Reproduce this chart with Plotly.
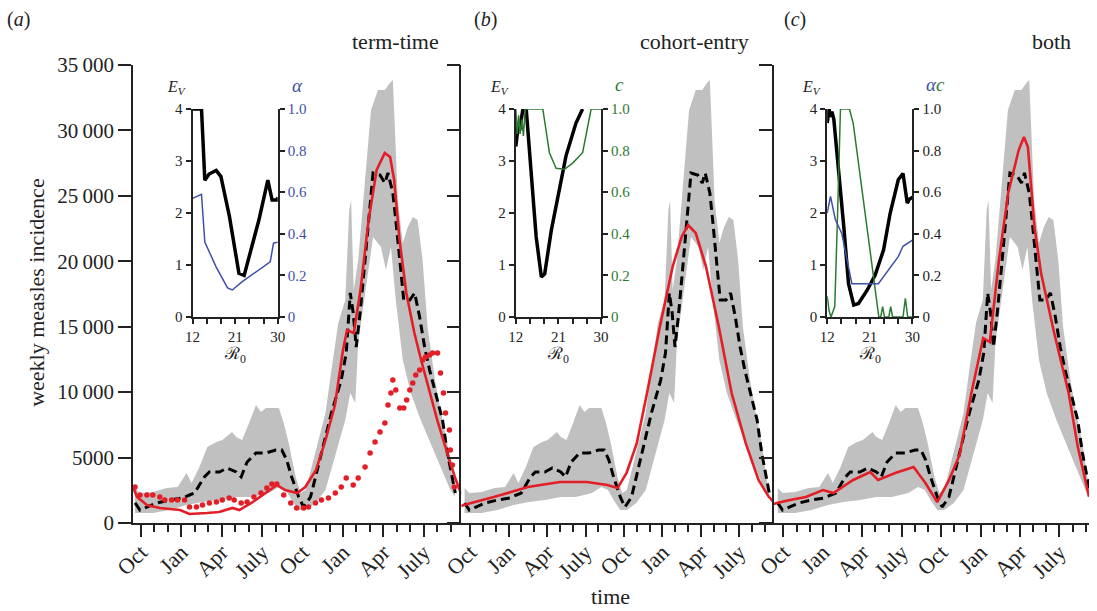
import plotly.graph_objects as go

# ---------------- data (x in months after 1 Oct of first year) ----------------
months = ["Oct", "Jan", "Apr", "July", "Oct", "Jan", "Apr", "July"]
month_ticks = [0, 3, 6, 9, 12, 15, 18, 21]
y_ticks = [0, 5000, 10000, 15000, 20000, 25000, 30000, 35000]
y_ticktext = ["0", "5000", "10\u2009000", "15\u2009000", "20\u2009000", "25\u2009000", "30\u2009000", "35\u2009000"]

obs_x = [-0.44, -0.07, 0.44, 1.18, 2.14, 3.09, 3.61, 3.98, 4.34, 4.71, 5.08, 5.82, 6.41, 7.07, 7.44, 7.88,
         8.54, 9.28, 10.01, 10.46, 10.82, 11.19, 11.71, 12.08, 12.59, 13.03, 13.55, 14.14, 14.87, 15.24,
         15.54, 15.76, 15.98, 16.27, 16.64, 17.01, 17.23, 17.75, 18.11, 18.34, 18.70, 18.92, 19.22, 19.51,
         19.96, 20.32, 20.69, 21.06, 21.43, 21.87, 22.39, 22.75, 23.12, 23.34]
obs = [1530, 990, 1220, 1530, 1760, 1910, 2140, 2290, 2900, 3520, 3900, 3900, 4200, 3900, 3520, 4660,
       5350, 5350, 5580, 5580, 4810, 3520, 1990, 1220, 1990, 3820, 5810, 8400, 10930, 12990,
       17580, 16050, 13450, 16050, 20100, 24680, 26750, 26590, 25980, 26750, 25220, 23150, 20100, 17040,
       17040, 17580, 15740, 13450, 11690, 9930, 7870, 5350, 3520, 2290]

band_up_x = [-0.44, -0.07, 0.88, 1.91, 2.72, 3.39, 3.76, 4.34, 4.93, 5.60, 6.04, 6.33, 6.77, 7.07, 7.51,
             8.03, 8.54, 8.91, 9.28, 10.24, 10.60, 10.97, 11.49, 11.86, 12.22, 12.67, 13.18, 13.70, 14.14,
             14.65, 15.17, 15.46, 15.60, 15.80, 16.13, 16.64, 17.08, 17.60, 18.11, 18.48, 18.70, 18.85,
             19.07, 19.44, 19.81, 20.18, 20.54, 20.91, 21.28, 21.80, 22.24, 22.75, 23.34]
band_up = [2670, 2290, 2370, 2670, 2750, 3820, 3060, 4280, 5810, 6190, 6340, 6570, 6950, 6570, 6340,
           7640, 9020, 8480, 8790, 8790, 7640, 6110, 3520, 2290, 2520, 4280, 6340, 8400, 11690,
           15280, 17040, 23900, 24680, 17800, 20100, 26440, 31560, 33090, 33090, 33620, 33850, 30260,
           24680, 21400, 22620, 23380, 23150, 20100, 14980, 11160, 8640, 6110, 2290]
band_lo_x = [-0.44, -0.07, 0.88, 2.14, 3.39, 4.57, 5.82, 7.07, 8.25, 9.50, 10.24, 10.75, 11.19, 11.71,
             12.22, 12.96, 13.70, 14.43, 15.17, 15.54, 15.91, 16.13, 16.64, 17.23, 17.82, 18.19, 18.56,
             18.92, 19.44, 20.03, 20.77, 21.50, 22.24, 22.97, 23.34]
band_lo = [760, 760, 760, 990, 1380, 1600, 1760, 1990, 1990, 2290, 2750, 2520, 1760, 990,
           990, 1530, 2520, 5200, 7870, 9930, 9170, 13760, 17580, 21860, 21090, 19330, 21090,
           17040, 12460, 9930, 7870, 6110, 4280, 2520, 1990]

red_a_x = [-0.59, -0.3, 0.44, 1.4, 2.9, 3.6, 4.9, 5.8, 6.8, 7.3, 8.2, 9.3, 10.1, 10.7, 11.6, 12.2, 13.0,
           13.7, 14.4, 15.0, 15.3, 15.8, 16.3, 16.9, 17.5, 18.1, 18.5, 18.8, 19.2, 19.7, 20.3, 20.8, 21.4,
           22.0, 22.6, 23.3, 23.78]
red_a = [2750, 2000, 1380, 1150, 990, 690, 760, 840, 1150, 990, 1530, 2290, 2900, 2520, 2290, 2750, 4050,
         6340, 9000, 13220, 14750, 14520, 17800, 23150, 26980, 28280, 27970, 26210, 21630, 17580, 14520,
         12460, 10160, 7870, 5810, 3520, 2200]

dots_x = [-0.44, -0.07, 0.44, 0.88, 1.40, 1.77, 2.28, 2.72, 3.24, 3.61, 4.12, 4.57, 5.08, 5.60, 6.04, 6.55,
          6.92, 7.44, 7.88, 8.39, 8.91, 9.35, 9.72, 10.09, 10.60, 11.12, 11.56, 12.08, 12.44, 12.96, 13.40,
          13.92, 14.43, 14.87, 15.24, 15.76, 16.13, 16.64, 17.01, 17.38, 17.75, 18.11, 18.34, 18.56, 18.70,
          18.92, 19.22, 19.51, 19.73, 19.96, 20.18, 20.40, 20.69, 20.91, 21.13, 21.43, 21.65, 22.02, 22.24,
          22.46, 22.61, 22.90, 22.97, 23.12, 23.27]
dots = [2750, 2140, 2140, 2140, 1990, 1760, 1760, 1760, 1760, 1220, 1220, 1380, 1530, 1600, 1760, 1910,
        1760, 1530, 1600, 1990, 2290, 2670, 2980, 2980, 2140, 1530, 1150, 1150, 1220, 1530, 1760,
        1910, 2290, 2750, 3440, 2900, 3440, 4280, 5350, 6190, 6950, 7640, 9020, 9930, 10930,
        10160, 8790, 8790, 9400, 10160, 10700, 11310, 11690, 12460, 12690, 12840, 12990, 12990, 11460,
        9930, 8400, 7110, 5580, 4430, 2750]

red_b_x = [-0.7, -0.5, 1.9, 4.5, 7.0, 9.1, 10.7, 11.5, 12.2, 13.0, 13.8, 14.8, 15.8, 16.5, 17.0, 17.6,
           18.4, 19.4, 20.4, 21.5, 22.5, 23.3, 23.68]
red_b = [1300, 1380, 2000, 2750, 3130, 3130, 2900, 2670, 3820, 6100, 9930, 15000, 19600, 21860, 22770,
         22160, 19600, 15000, 9930, 6100, 3290, 2000, 1600]

red_c_x = [-0.75, -0.5, 0.5, 1.7, 3.0, 3.8, 5.3, 6.6, 7.2, 8.5, 9.9, 10.8, 11.7, 12.6, 13.4, 14.3, 15.2,
           15.7, 16.4, 17.1, 17.9, 18.3, 18.6, 19.1, 19.6, 20.6, 21.7, 22.4, 23.25]
red_c = [1450, 1530, 1760, 1990, 2520, 2290, 3290, 3900, 3290, 3820, 4280, 3060, 1600, 3290, 5200, 9930,
         14140, 13830, 20100, 25220, 28500, 29500, 28730, 22620, 19100, 14520, 9930, 5800, 2000]

# insets: R0 vs E_V and parameters
ev_a_x = [12, 13.9, 14.6, 15.5, 17, 18, 19.8, 21.8, 22.9, 23.9, 26, 27.9, 28.8, 29.8, 30]
ev_a = [4, 4, 2.63, 2.75, 2.82, 2.7, 1.93, 0.84, 0.8, 1.16, 1.86, 2.63, 2.25, 2.25, 2.3]
alpha_a_x = [12, 13.9, 14.6, 17, 19.4, 20.4, 22.5, 26, 28.4, 29.1, 30]
alpha_a = [0.57, 0.59, 0.36, 0.24, 0.14, 0.13, 0.17, 0.225, 0.265, 0.355, 0.36]

ev_b_x = [12, 12.5, 12.8, 13.5, 14.2, 14.9, 16.3, 17.4, 18.1, 19.5, 21.2, 22.6, 24.7, 26.1]
ev_b = [3.28, 3.67, 3.58, 4, 4, 3.15, 1.54, 0.77, 0.83, 1.67, 2.5, 3.1, 3.73, 4]
c_b_x = [12, 12.3, 12.6, 12.9, 13.3, 13.6, 14.0, 17.7, 19.1, 20.5, 22.3, 24.0, 26.1, 27.9, 30]
c_b = [1, 0.88, 0.97, 0.88, 0.95, 0.87, 1, 1, 0.79, 0.715, 0.71, 0.74, 0.79, 1, 1]

ev_c_x = [12, 12.4, 12.7, 13.0, 13.4, 14.1, 15.5, 16.5, 17.6, 18.6, 20.4, 22.1, 23.9, 25.3, 27, 28, 28.9,
          29.4, 30]
ev_c = [3.73, 4, 3.85, 3.95, 3.8, 3.15, 1.74, 0.64, 0.23, 0.26, 0.51, 0.8, 1.29, 2, 2.64, 2.76, 2.19,
        2.27, 2.3]
alpha_c_x = [12, 12.7, 13.7, 15.1, 16.5, 17.2, 22.8, 25.3, 27, 28, 30]
alpha_c = [0.5, 0.58, 0.47, 0.40, 0.24, 0.16, 0.16, 0.24, 0.29, 0.34, 0.37]
c_c_x = [12, 12.4, 12.8, 13.6, 14.2, 14.8, 16.7, 17.5, 22.9, 23.3, 23.7, 24.1, 25.0, 25.4, 25.8, 28.0,
         28.5, 29.0, 30]
c_c = [0.1, 0.03, 0, 0.05, 0.5, 1, 1, 0.93, 0, 0, 0.05, 0, 0, 0.05, 0, 0, 0.09, 0, 0]

r0_ticks = [12, 21, 30]
r0_minor = [15, 18, 24, 27]
ev_ticks = [0, 1, 2, 3, 4]
par_ticks = [0, 0.2, 0.4, 0.6, 0.8, 1.0]
par_text = ["0", "0.2", "0.4", "0.6", "0.8", "1.0"]

# ---------------- styling ----------------
W, H = 1097, 611
ML, MR, MT, MB = 133, 0, 65, 88
PW, PH = W - ML - MR, H - MT - MB
FONT = "Liberation Serif"
GREY = "rgb(192,192,192)"
RED = "#e41e26"
BLUE = "#3f4fa6"
GREEN = "#2b7a32"


def fx(px):
    return (px - ML) / PW


def fy(py):
    return (H - MB - py) / PH


panel_px = [(133, 464), (464, 779), (779, 1097)]
panel_range = [[-0.59, 23.78], [-0.70, 23.68], [-0.75, 23.25]]
inset_px = [(193, 279), (519, 605), (833, 919)]
inset_py = (109, 317)

fig = go.Figure()

reds = [(red_a_x, red_a), (red_b_x, red_b), (red_c_x, red_c)]
for i in range(3):
    xa = "x" if i == 0 else f"x{i+1}"
    ya = "y" if i == 0 else f"y{i+1}"
    fig.add_trace(go.Scatter(x=band_up_x + band_lo_x[::-1], y=band_up + band_lo[::-1], fill="toself",
                             fillcolor=GREY, line=dict(width=0, color=GREY), mode="lines",
                             xaxis=xa, yaxis=ya, showlegend=False, hoverinfo="skip"))
    fig.add_trace(go.Scatter(x=obs_x, y=obs, mode="lines", line=dict(color="black", width=3, dash="9px,5px"),
                             xaxis=xa, yaxis=ya, showlegend=False))
    fig.add_trace(go.Scatter(x=reds[i][0], y=reds[i][1], mode="lines", line=dict(color=RED, width=2.6),
                             xaxis=xa, yaxis=ya, showlegend=False))
    if i == 0:
        fig.add_trace(go.Scatter(x=dots_x, y=dots, mode="markers", marker=dict(color=RED, size=5.5),
                                 xaxis=xa, yaxis=ya, showlegend=False))

insets = [
    [(ev_a_x, ev_a, "black", 3.5, "l"), (alpha_a_x, alpha_a, BLUE, 1.5, "r")],
    [(c_b_x, c_b, GREEN, 1.5, "r"), (ev_b_x, ev_b, "black", 3.5, "l")],
    [(c_c_x, c_c, GREEN, 1.5, "r"), (alpha_c_x, alpha_c, BLUE, 1.5, "r"), (ev_c_x, ev_c, "black", 3.5, "l")],
]
for i in range(3):
    xi = f"x{4+i}"
    yl = f"y{4+2*i}"
    yr = f"y{5+2*i}"
    for (xs, ys, col, w, side) in insets[i]:
        fig.add_trace(go.Scatter(x=xs, y=ys, mode="lines", line=dict(color=col, width=w),
                                 xaxis=xi, yaxis=(yl if side == "l" else yr), showlegend=False))

layout = dict(width=W, height=H, margin=dict(l=ML, r=MR, t=MT, b=MB), plot_bgcolor="white",
              paper_bgcolor="white", font=dict(family=FONT, size=21, color="#222"), showlegend=False)

for i in range(3):
    sx = "" if i == 0 else str(i + 1)
    d0, d1 = fx(panel_px[i][0]), fx(panel_px[i][1])
    layout["xaxis" + sx] = dict(domain=[d0, min(d1, 1.0)], range=panel_range[i], anchor="y" + sx,
                                tickvals=month_ticks, ticktext=months, tickangle=-45, ticks="outside",
                                ticklen=12, tickwidth=1.5, tickcolor="#222", showline=True, linecolor="#222",
                                linewidth=1.5, showgrid=False, zeroline=False, ticklabelstandoff=-6,
                                minor=dict(tickvals=list(range(0, 24)), ticks="outside", ticklen=7,
                                           tickwidth=1.5, tickcolor="#222"),
                                tickfont=dict(size=22, family=FONT, color="#222"))
    layout["yaxis" + sx] = dict(domain=[0, 1], range=[0, 35000], anchor="x" + sx, tickvals=y_ticks,
                                ticktext=y_ticktext, showticklabels=(i == 0), ticks="outside", ticklen=13,
                                tickwidth=1.5, tickcolor="#222", showline=True, linecolor="#222",
                                linewidth=1.5, showgrid=False, zeroline=False,
                                tickfont=dict(size=21, family=FONT, color="#222"))

right_colors = [BLUE, GREEN, "#222"]
for i in range(3):
    xi = str(4 + i)
    yl = str(4 + 2 * i)
    yr = str(5 + 2 * i)
    dom_x = [fx(inset_px[i][0]), fx(inset_px[i][1])]
    dom_y = [fy(inset_py[1]), fy(inset_py[0])]
    common = dict(showline=True, linecolor="#222", linewidth=2, showgrid=False, zeroline=False,
                  ticks="outside", ticklen=5, tickwidth=1.5, tickcolor="#222")
    layout["xaxis" + xi] = dict(domain=dom_x, range=[12, 30], anchor="y" + yl, tickvals=r0_ticks,
                                tickangle=0, tickfont=dict(size=15, family=FONT, color="#222"),
                                minor=dict(tickvals=r0_minor, ticks="outside", ticklen=5, tickwidth=1.5,
                                           tickcolor="#222"),
                                **common)
    layout["yaxis" + yl] = dict(domain=dom_y, range=[0, 4], anchor="x" + xi, tickvals=ev_ticks,
                                tickfont=dict(size=15, family=FONT, color="#222"), **common)
    layout["yaxis" + yr] = dict(domain=dom_y, range=[0, 1], anchor="x" + xi, overlaying="y" + yl,
                                side="right", tickvals=par_ticks, ticktext=par_text,
                                tickfont=dict(size=15, family=FONT, color=right_colors[i]), **common)

ann = []


def text(px, py, s, size=21, xanchor="center", angle=0, color="#222"):
    ann.append(dict(x=fx(px), y=fy(py), xref="paper", yref="paper", text=s, showarrow=False,
                    xanchor=xanchor, yanchor="middle", textangle=angle,
                    font=dict(family=FONT, size=size, color=color)))


text(18, 19, "(<i>a</i>)", 20)
text(488, 19, "(<i>b</i>)", 20)
text(801, 19, "(<i>c</i>)", 20)
text(444, 41, "term-time", 22, "right")
text(756, 41, "cohort-entry", 22, "right")
text(1081, 41, "both", 22, "right")
text(35, 293, "weekly measles incidence", 22, angle=-90)
text(614, 596, "time", 22)

ev_pos = [(177, 87), (503, 87), (817, 87)]
par_pos = [(299, 85), (624, 84), (942, 84)]
par_lbl = [f"<span style='color:{BLUE}'><i>α</i></span>",
           f"<span style='color:{GREEN}'><i>c</i></span>",
           f"<span style='color:{BLUE}'><i>α</i></span><span style='color:{GREEN}'><i>c</i></span>"]
r0_pos = [(236, 355), (562, 355), (876, 355)]
for i in range(3):
    text(ev_pos[i][0], ev_pos[i][1], "<i>E</i><sub><i>V</i></sub>", 16)
    text(par_pos[i][0], par_pos[i][1], par_lbl[i], 19)
    text(r0_pos[i][0], r0_pos[i][1], "ℛ<sub>0</sub>", 17)

layout["annotations"] = ann
fig.update_layout(**layout)
fig.write_html("out.html", config={"displayModeBar": False},
               post_script="document.body.style.margin='0';document.body.style.overflow='hidden';")
